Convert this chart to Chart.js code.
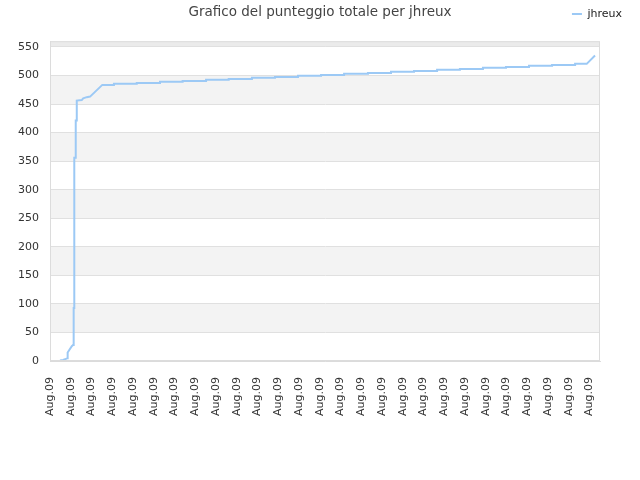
<!DOCTYPE html>
<html>
<head>
<meta charset="utf-8">
<script src="https://cdn.jsdelivr.net/npm/chart.js@4.4.0/dist/chart.umd.min.js"></script>
<style>
  html, body { margin: 0; padding: 0; background: #fff; }
  #wrap { width: 640px; height: 480px; }
</style>
</head>
<body>
<div id="wrap"><canvas id="scoreChart"></canvas></div>
<script>
// Chart data (x is the position along the date axis, one unit per label)
const tickLabel = 'Aug.09';
const xTicks = [0, 1, 2, 3, 4, 5, 6, 7, 8, 9, 10, 11, 12, 13, 14, 15, 16, 17, 18, 19, 20, 21, 22, 23, 24, 25, 26];
const yTicks = [0, 50, 100, 150, 200, 250, 300, 350, 400, 450, 500, 550];

// early climb
const startX = [0.48, 0.63, 0.72, 0.84, 0.85, 1.05, 1.11, 1.14, 1.14, 1.17, 1.17, 1.24, 1.24, 1.29, 1.29, 1.53, 1.60, 1.77, 1.93, 2.52];
const startY = [1, 2, 3, 5, 15, 26, 28, 30, 93, 93, 356, 356, 421, 421, 456, 457, 460, 462, 463, 483.5];

// slow staircase
const stepX = [3.08, 4.18, 5.30, 6.39, 7.52, 8.61, 9.73, 10.84, 11.95, 13.06, 14.17, 15.32, 16.43, 17.54, 18.65, 19.75, 20.86, 21.97, 23.08, 24.19, 25.30];
const stepY = [485.3, 487, 488.8, 490.5, 492.3, 494, 495.8, 497.5, 499.3, 501, 502.8, 504.5, 506.3, 508, 509.8, 511.5, 513.3, 515, 516.8, 518.5, 520.3];

// last jump
const endX = [25.86, 26.26];
const endY = [520.3, 535];

const seriesName = 'jhreux';
const titleText = 'Grafico del punteggio totale per jhreux';

// build the point list
const points = startX.map((x, i) => ({ x: x, y: startY[i] }));
let prevY = startY[startY.length - 1];
stepX.forEach((x, i) => {
    points.push({ x: x, y: prevY });
    points.push({ x: x, y: stepY[i] });
    prevY = stepY[i];
});
endX.forEach((x, i) => points.push({ x: x, y: endY[i] }));

const lineColor = '#9cc9f5';
const font = 'DejaVu Sans';

// alternating background bands behind the grid
const bands = {
    id: 'bands',
    beforeDraw(chart) {
        const { ctx, chartArea: a, scales: { y } } = chart;
        ctx.save();
        ctx.fillStyle = '#ffffff';
        ctx.fillRect(a.left, a.top, a.right - a.left, a.bottom - a.top);
        for (let v = 50; v < 550; v += 100) {
            const t = y.getPixelForValue(v + 50), b = y.getPixelForValue(v);
            ctx.fillStyle = '#f3f3f3';
            ctx.fillRect(a.left, t, a.right - a.left, b - t);
        }
        const t = y.getPixelForValue(y.max), b = y.getPixelForValue(550);
        ctx.fillStyle = '#ebebeb';
        ctx.fillRect(a.left, t, a.right - a.left, b - t);
        ctx.restore();
    },
    afterDraw(chart) {
        const { ctx, chartArea: a } = chart;
        ctx.save();
        ctx.strokeStyle = '#dcdcdc';
        ctx.lineWidth = 1;
        ctx.strokeRect(a.left + 0.5, a.top + 0.5, a.right - a.left - 1, a.bottom - a.top - 1);
        ctx.restore();
    }
};

// put the legend on the title line, at the right
const legendOnTitleLine = {
    id: 'legendOnTitleLine',
    afterLayout(chart) {
        const lg = chart.legend;
        const h = lg.height;
        lg.top = 8.5;
        lg.bottom = 8.5 + h;
        lg.right = 622;
    }
};

document.addEventListener('DOMContentLoaded', () => {
    const ctx = document.getElementById('scoreChart').getContext('2d');
    new Chart(ctx, {
        type: 'line',
        data: {
            datasets: [{
                label: seriesName,
                data: points,
                borderColor: lineColor,
                backgroundColor: lineColor,
                borderWidth: 2,
                pointRadius: 0,
                tension: 0,
                fill: false
            }]
        },
        options: {
            responsive: true,
            maintainAspectRatio: false,
            animation: false,
            layout: { padding: { left: 0, right: 0, top: 0, bottom: 56 } },
            scales: {
                x: {
                    type: 'linear',
                    min: 0,
                    max: 26.5,
                    afterBuildTicks: s => { s.ticks = xTicks.map(v => ({ value: v })); },
                    ticks: {
                        autoSkip: false,
                        maxRotation: 90,
                        minRotation: 90,
                        padding: 8,
                        color: '#333',
                        font: { family: font, size: 11 },
                        callback: () => tickLabel
                    },
                    grid: { display: false },
                    border: { color: '#dcdcdc' }
                },
                y: {
                    min: 0,
                    max: 560,
                    afterBuildTicks: s => { s.ticks = yTicks.map(v => ({ value: v })); },
                    afterFit: s => { s.width = 50; },
                    ticks: {
                        autoSkip: false,
                        padding: 11,
                        color: '#333',
                        font: { family: font, size: 11 }
                    },
                    grid: { color: '#e0e0e0', drawTicks: false },
                    border: { color: '#dcdcdc' }
                },
                yRight: {
                    position: 'right',
                    afterFit: s => { s.width = 40; },
                    ticks: { display: false },
                    grid: { display: false },
                    border: { display: false }
                }
            },
            plugins: {
                title: {
                    display: true,
                    text: titleText,
                    color: '#444',
                    font: { family: font, size: 13.5, weight: 'normal' },
                    padding: { top: 4, bottom: 0 }
                },
                legend: {
                    position: 'top',
                    align: 'end',
                    labels: {
                        color: '#222',
                        font: { family: font, size: 11 },
                        usePointStyle: true,
                        pointStyle: 'line',
                        pointStyleWidth: 10,
                        boxHeight: 10,
                        padding: 0
                    }
                },
                tooltip: { enabled: false }
            }
        },
        plugins: [bands, legendOnTitleLine]
    });
});
</script>
</body>
</html>
